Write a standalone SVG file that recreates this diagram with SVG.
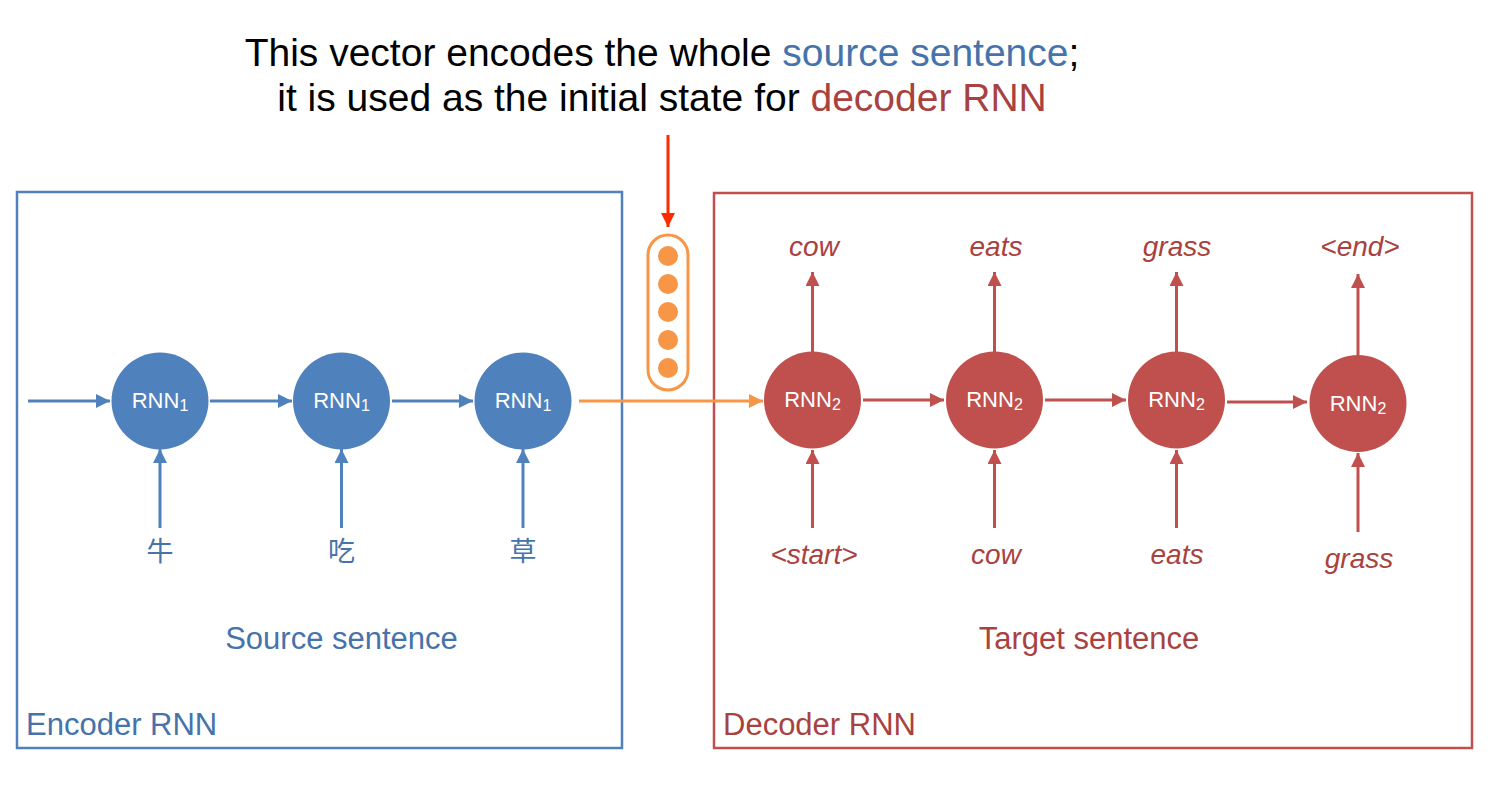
<svg xmlns="http://www.w3.org/2000/svg" width="1504" height="786" viewBox="0 0 1504 786">
<style>
  .t { font-family: "Liberation Sans", Arial, sans-serif; }
  .title { font-size: 39px; fill: #000; text-anchor: middle; }
  .blueTxt { fill: #4673ab; }
  .redTxt { fill: #a9423f; }
  .lbl { font-size: 31px; }
  .word { font-size: 28px; font-style: italic; fill: #a9423f; text-anchor: middle; }
  .cjk { font-family: "Noto Sans CJK SC", "Noto Sans CJK JP", sans-serif; font-size: 27px; fill: #4673ab; text-anchor: middle; }
  .rnn { font-size: 22px; fill: #fff; text-anchor: middle; }
  .encN { fill: #4f81bd; }
  .decN { fill: #c0504d; }
  .eArr { stroke: #4f81bd; stroke-width: 3; fill: none; marker-end: url(#ahB); }
  .dArr { stroke: #c0504d; stroke-width: 3; fill: none; marker-end: url(#ahR); }
  .oArr { stroke: #f79646; stroke-width: 3; fill: none; marker-end: url(#ahO); }
  .rArr { stroke: #ff2a00; stroke-width: 3; fill: none; marker-end: url(#ahF); }
</style>
<defs>
  <marker id="ahB" markerUnits="userSpaceOnUse" markerWidth="14" markerHeight="14" refX="14" refY="7" orient="auto"><path d="M0,0 L14,7 L0,14 z" fill="#4f81bd"/></marker>
  <marker id="ahR" markerUnits="userSpaceOnUse" markerWidth="14" markerHeight="14" refX="14" refY="7" orient="auto"><path d="M0,0 L14,7 L0,14 z" fill="#c0504d"/></marker>
  <marker id="ahO" markerUnits="userSpaceOnUse" markerWidth="14" markerHeight="14" refX="14" refY="7" orient="auto"><path d="M0,0 L14,7 L0,14 z" fill="#f79646"/></marker>
  <marker id="ahF" markerUnits="userSpaceOnUse" markerWidth="14" markerHeight="14" refX="14" refY="7" orient="auto"><path d="M0,0 L14,7 L0,14 z" fill="#ff2a00"/></marker>
</defs>
<rect width="1504" height="786" fill="#fff"/>

<g id="title" class="t">
  <text class="title" x="662" y="66">This vector encodes the whole <tspan class="blueTxt">source sentence</tspan>;</text>
  <text class="title" x="662" y="111">it is used as the initial state for <tspan class="redTxt">decoder RNN</tspan></text>
</g>

<g id="encoder-box">
  <rect x="17" y="192" width="605" height="556" fill="none" stroke="#4f81bd" stroke-width="2.5"/>
  <text class="t lbl blueTxt" x="26" y="735">Encoder RNN</text>
  <text class="t lbl blueTxt" x="341.5" y="649" text-anchor="middle">Source sentence</text>
</g>

<g id="decoder-box">
  <rect x="714" y="193" width="758" height="555" fill="none" stroke="#c0504d" stroke-width="2.5"/>
  <text class="t lbl redTxt" x="723" y="735">Decoder RNN</text>
  <text class="t lbl redTxt" x="1089" y="649" text-anchor="middle">Target sentence</text>
</g>

<g id="vector">
  <rect x="648" y="235" width="40" height="155" rx="20" ry="20" fill="#fff" stroke="#f79646" stroke-width="3"/>
  <circle cx="668" cy="256" r="10" fill="#f79646"/>
  <circle cx="668" cy="284" r="10" fill="#f79646"/>
  <circle cx="668" cy="312" r="10" fill="#f79646"/>
  <circle cx="668" cy="340" r="10" fill="#f79646"/>
  <circle cx="668" cy="368" r="10" fill="#f79646"/>
</g>

<g id="connectors">
  <line class="rArr" x1="668" y1="135" x2="668" y2="227"/>
  <line class="eArr" x1="28" y1="401" x2="110" y2="401"/>
  <line class="eArr" x1="210" y1="401" x2="292" y2="401"/>
  <line class="eArr" x1="392" y1="401" x2="473" y2="401"/>
  <line class="eArr" x1="160" y1="528" x2="160" y2="449"/>
  <line class="eArr" x1="341.5" y1="528" x2="341.5" y2="449"/>
  <line class="eArr" x1="523" y1="528" x2="523" y2="449"/>
  <line class="oArr" x1="579" y1="401" x2="763" y2="401"/>
  <line class="dArr" x1="863" y1="400" x2="944" y2="400"/>
  <line class="dArr" x1="1045" y1="400" x2="1126" y2="400"/>
  <line class="dArr" x1="1227" y1="402" x2="1307" y2="402"/>
  <line class="dArr" x1="812.5" y1="352" x2="812.5" y2="272"/>
  <line class="dArr" x1="994.5" y1="352" x2="994.5" y2="272"/>
  <line class="dArr" x1="1176.5" y1="352" x2="1176.5" y2="272"/>
  <line class="dArr" x1="1358" y1="355" x2="1358" y2="274"/>
  <line class="dArr" x1="812.5" y1="528" x2="812.5" y2="450"/>
  <line class="dArr" x1="994.5" y1="528" x2="994.5" y2="450"/>
  <line class="dArr" x1="1176.5" y1="528" x2="1176.5" y2="450"/>
  <line class="dArr" x1="1358" y1="532" x2="1358" y2="453"/>
</g>

<g id="enc1"><circle class="encN" cx="160" cy="401" r="48.5"/><text class="t rnn" x="160" y="408">RNN<tspan font-size="16" dy="3">1</tspan></text></g>
<g id="enc2"><circle class="encN" cx="341.5" cy="401" r="48.5"/><text class="t rnn" x="341.5" y="408">RNN<tspan font-size="16" dy="3">1</tspan></text></g>
<g id="enc3"><circle class="encN" cx="523" cy="401" r="48.5"/><text class="t rnn" x="523" y="408">RNN<tspan font-size="16" dy="3">1</tspan></text></g>

<g id="dec1"><circle class="decN" cx="812.5" cy="400" r="48.5"/><text class="t rnn" x="812.5" y="407">RNN<tspan font-size="16" dy="3">2</tspan></text></g>
<g id="dec2"><circle class="decN" cx="994.5" cy="400" r="48.5"/><text class="t rnn" x="994.5" y="407">RNN<tspan font-size="16" dy="3">2</tspan></text></g>
<g id="dec3"><circle class="decN" cx="1176.5" cy="400" r="48.5"/><text class="t rnn" x="1176.5" y="407">RNN<tspan font-size="16" dy="3">2</tspan></text></g>
<g id="dec4"><circle class="decN" cx="1358" cy="403.5" r="48.5"/><text class="t rnn" x="1358" y="411">RNN<tspan font-size="16" dy="3">2</tspan></text></g>

<g id="src-words">
  <text class="cjk" x="160" y="561">牛</text>
  <text class="cjk" x="341.5" y="561">吃</text>
  <text class="cjk" x="523" y="561">草</text>
</g>

<g id="out-words" class="t">
  <text class="word" x="814" y="256">cow</text>
  <text class="word" x="996" y="256">eats</text>
  <text class="word" x="1177" y="256">grass</text>
  <text class="word" x="1360" y="256">&lt;end&gt;</text>
</g>

<g id="in-words" class="t">
  <text class="word" x="814" y="564">&lt;start&gt;</text>
  <text class="word" x="996" y="564">cow</text>
  <text class="word" x="1177" y="564">eats</text>
  <text class="word" x="1359" y="568">grass</text>
</g>
</svg>
